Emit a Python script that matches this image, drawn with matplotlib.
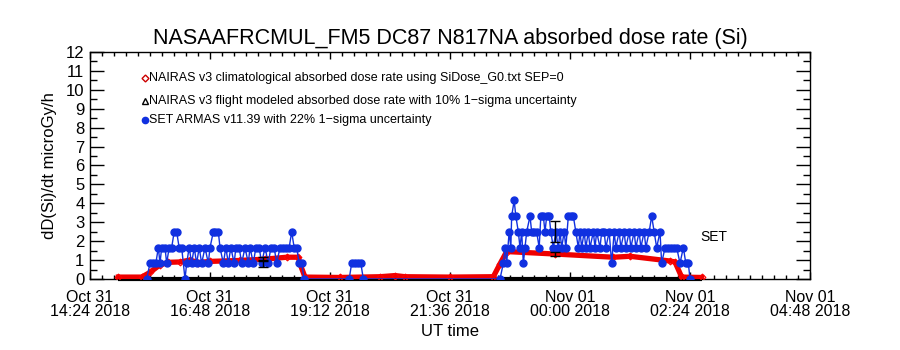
import matplotlib
matplotlib.use("Agg")
import matplotlib.pyplot as plt
from matplotlib.ticker import MultipleLocator

plt.rcParams['font.family'] = ['Liberation Sans', 'DejaVu Sans']

# ---- data (time = minutes after 2018-10-31 14:24 UT) ----
title = "NASAAFRCMUL_FM5 DC87 N817NA absorbed dose rate (Si)"
xtick_minutes = [0, 144, 288, 432, 576, 720, 864]
xtick_labels = ["Oct 31\n14:24 2018", "Oct 31\n16:48 2018", "Oct 31\n19:12 2018",
                "Oct 31\n21:36 2018", "Nov 01\n00:00 2018", "Nov 01\n02:24 2018",
                "Nov 01\n04:48 2018"]
ytick_values = list(range(0, 13))

# NAIRAS v3 climatological absorbed dose rate (red diamonds)
clim_t = [34, 62, 72, 84, 94, 108, 120, 130, 144, 180, 210, 236, 250, 252, 258,
          300, 348, 366, 378, 432, 484, 492, 500, 558, 628, 648, 696, 702, 710, 734]
clim_v = [0.10, 0.10, 0.35, 0.75, 0.88, 0.90, 1.00, 0.87, 0.93, 0.98, 1.05, 1.15, 1.15, 0.80, 0.10,
          0.08, 0.12, 0.18, 0.12, 0.10, 0.12, 0.80, 1.45, 1.32, 1.15, 1.20, 0.95, 0.90, 0.10, 0.08]

# NAIRAS v3 flight modeled absorbed dose rate (black triangles)
flight_t = [34, 734]
flight_v = [0.0, 0.0]
flight_err_t = [208, 558]
flight_err_v = [1.05, 1.32]
flight_err = [0.10, 0.13]

# SET ARMAS v11.39 (blue filled circles)
set_t = [68, 72, 76, 79, 82, 84, 86, 90, 92, 95, 98, 101, 104, 107, 110, 114, 116, 119, 122, 125,
         128, 131, 134, 138, 142, 144, 148, 150, 154, 156, 160, 163, 166, 169, 173, 175, 179, 182,
         186, 190, 192, 196, 199, 203, 206, 210, 214, 217, 221, 224, 228, 232, 235, 239, 242, 245,
         248, 251, 254, 257,
         311, 314, 318, 322, 325, 328,
         492, 496, 498, 500, 503, 505, 506, 509, 511, 514, 516, 518, 520, 522, 524, 528, 530, 533,
         536, 539, 541, 544, 546, 548, 551, 553, 556, 559, 562, 564, 566, 569, 571, 574, 577, 580,
         583, 586, 588, 590, 593, 595, 598, 600, 604, 606, 608, 612, 614, 617, 619, 623, 626, 629,
         631, 635, 637, 641, 643, 647, 649, 653, 655, 659, 661, 665, 667, 671, 674, 677, 680, 684,
         686, 690, 694, 697, 701, 704, 708, 712, 715, 718, 720]
set_v = [0, 0.83, 0.83, 0.83, 1.66, 0.83, 1.66, 1.66, 0.83, 1.66, 1.66, 2.49, 2.49, 1.66, 1.66, 0,
         0.83, 1.66, 0.83, 1.66, 0.83, 1.66, 0.83, 1.66, 0.83, 1.66, 2.49, 2.49, 2.49, 1.66, 0.83,
         1.66, 0.83, 1.66, 0.83, 1.66, 1.66, 0.83, 1.66, 0.83, 1.66, 0.83, 1.66, 1.66, 0.83, 1.66,
         0.83, 1.66, 1.66, 0.83, 1.66, 1.66, 1.66, 1.66, 2.49, 1.66, 1.66, 0.83, 0.83, 0,
         0, 0.83, 0.83, 0.83, 0.83, 0,
         0, 0.83, 1.66, 0.83, 2.49, 1.66, 3.32, 4.15, 3.32, 2.49, 1.66, 2.49, 0.83, 1.66, 2.49,
         3.32, 2.49, 2.49, 2.49, 1.66, 3.32, 3.32, 2.49, 3.32, 3.32, 2.49, 1.66, 2.49, 1.66, 2.49,
         1.66, 2.49, 1.66, 3.32, 3.32, 3.32, 2.49, 1.66, 2.49, 1.66, 2.49, 1.66, 2.49, 1.66, 2.49,
         1.66, 2.49, 1.66, 2.49, 2.49, 1.66, 2.49, 0.83, 2.49, 1.66, 2.49, 1.66, 2.49, 1.66, 2.49,
         1.66, 2.49, 1.66, 2.49, 1.66, 2.49, 1.66, 2.49, 3.32, 2.49, 1.66, 2.49, 0.83, 1.66, 1.66,
         1.66, 1.66, 1.66, 0.83, 1.66, 0.83, 0.83, 0]
set_err_t = [208, 558]
set_err_v = [0.83, 2.49]
set_err = [0.18, 0.55]

legend_labels = ["NAIRAS v3 climatological absorbed dose rate using SiDose_G0.txt SEP=0",
                 "NAIRAS v3 flight modeled absorbed dose rate with 10% 1\u2212sigma uncertainty",
                 "SET ARMAS v11.39 with 22% 1\u2212sigma uncertainty"]
set_note = "SET"
set_note_t, set_note_v = 732, 2.2

# ---- figure ----
fig = plt.figure(figsize=(9, 3.5), dpi=100)
ax = fig.add_axes([0.1, 0.2029, 0.8, 0.6485])

ax.plot(flight_t, flight_v, color="black", lw=3, solid_capstyle="butt", clip_on=False, zorder=2)
ax.plot(clim_t, clim_v, color="#ee0000", lw=3.8, zorder=3, solid_joinstyle="round")
ax.plot(clim_t, clim_v, ls="none", marker="D", ms=3.5, mfc="none", mec="#ff0000", mew=0.8, zorder=3)
ax.plot(set_t, set_v, color="#1030e0", lw=1.0, marker="o", ms=5, mfc="#1030e0", mec="#1030e0",
        zorder=4)
ax.errorbar(set_err_t, set_err_v, yerr=set_err, fmt="none", ecolor="black", elinewidth=1,
            capsize=3.5, capthick=1, zorder=5)
ax.errorbar(flight_err_t, flight_err_v, yerr=flight_err, fmt="none", ecolor="black", elinewidth=1,
            capsize=3.5, capthick=1, zorder=5)
ax.text(set_note_t, set_note_v, set_note, fontsize=10, va="center", ha="left")

# legend drawn as in IDL
leg_y = [0.885, 0.785, 0.700]
leg_markers = [dict(marker="D", mfc="none", mec="#cc0000", ms=3.5, mew=1),
               dict(marker="^", mfc="none", mec="black", ms=4, mew=1),
               dict(marker="o", mfc="#1030e0", mec="#1030e0", ms=4.5)]
for yy, lab, mk in zip(leg_y, legend_labels, leg_markers):
    ax.plot([0.077], [yy], transform=ax.transAxes, ls="none", clip_on=False, **mk)
    ax.text(0.082, yy, lab, transform=ax.transAxes, fontsize=9, va="center", ha="left")

ax.set_xlim(0, 864)
ax.set_ylim(0, 12)
ax.set_xticks(xtick_minutes)
ax.set_xticklabels(xtick_labels)
ax.xaxis.set_minor_locator(MultipleLocator(14.4))
ax.set_yticks(ytick_values)
ax.yaxis.set_minor_locator(MultipleLocator(0.5))
for lab in ax.get_xticklabels():
    lab.set_linespacing(0.95)

ax.tick_params(axis="x", which="major", direction="in", length=5, width=1, top=True,
               labelsize=11.5, pad=8)
ax.tick_params(axis="x", which="minor", direction="in", length=3, width=1, top=True)
ax.tick_params(axis="y", which="major", direction="in", length=10, width=1, right=True,
               labelsize=12, pad=4)
ax.tick_params(axis="y", which="minor", direction="in", length=5, width=1, right=True)
for s in ax.spines.values():
    s.set_linewidth(1)

ax.set_title(title, fontsize=15.5, pad=6)
ax.set_ylabel("dD(Si)/dt microGy/h", fontsize=12, labelpad=6)
ax.set_xlabel("UT time", fontsize=12, labelpad=3)

fig.savefig("out.png", dpi=100)
